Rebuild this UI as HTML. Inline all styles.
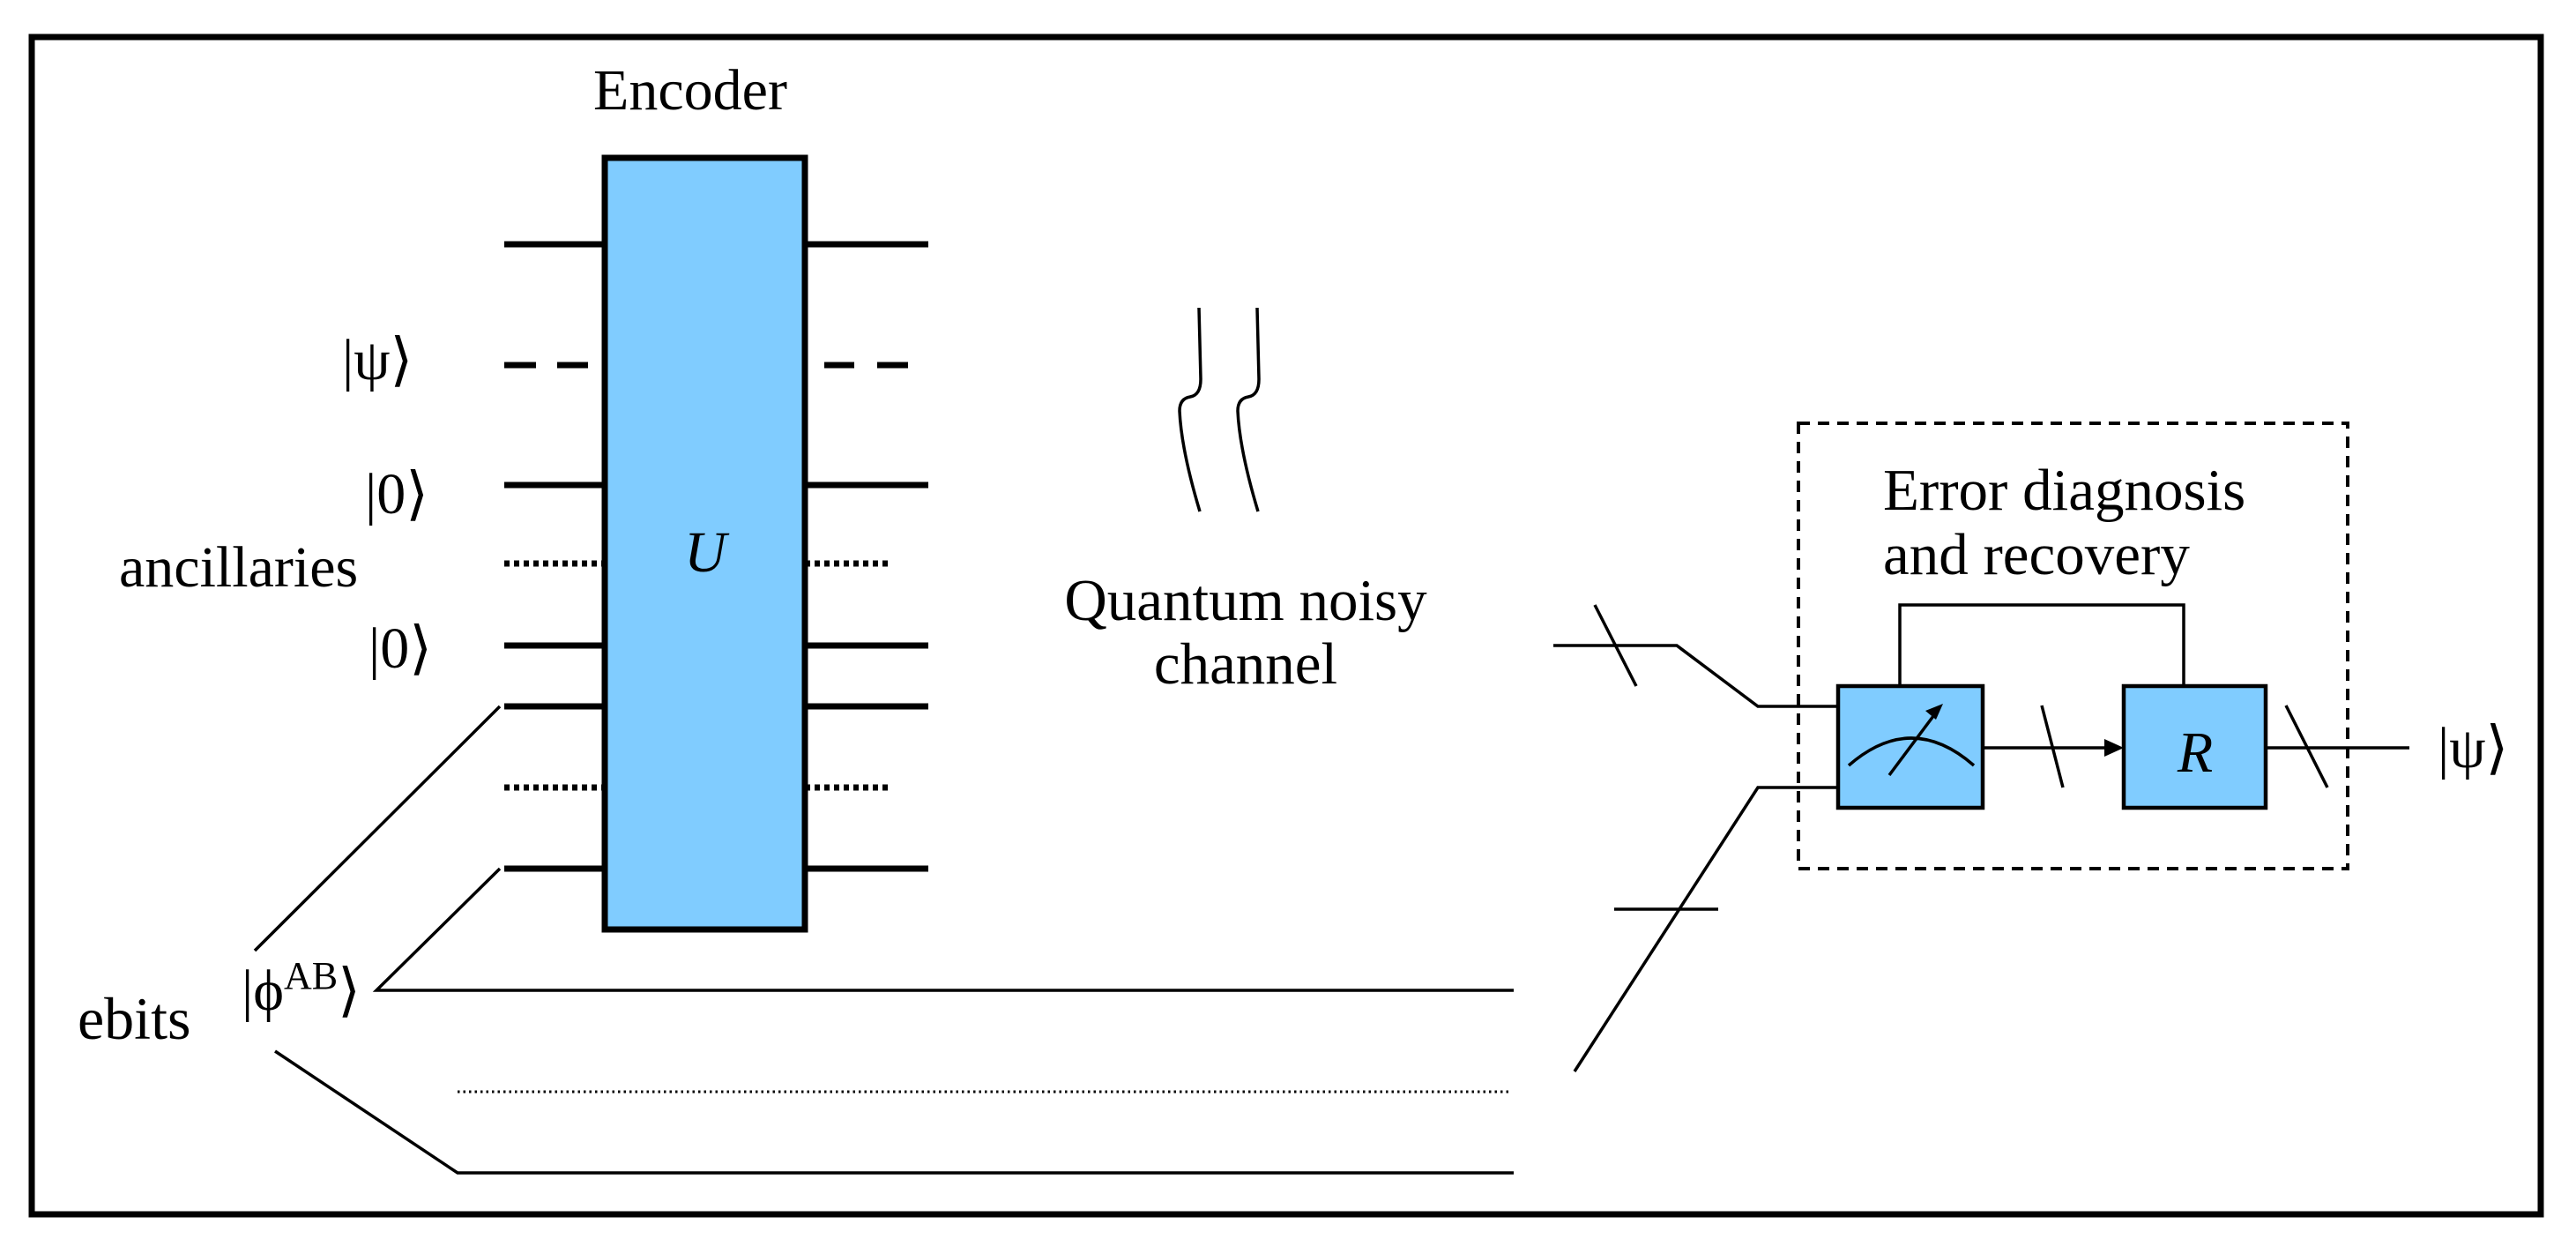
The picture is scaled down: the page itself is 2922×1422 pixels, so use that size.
<!DOCTYPE html>
<html><head><meta charset="utf-8"><style>
html,body{margin:0;padding:0;background:#fff;}
svg{display:block;}
text{font-family:"Liberation Serif","DejaVu Serif",serif;fill:#000;}
</style></head><body>
<svg width="2922" height="1422" viewBox="0 0 2922 1422" xmlns="http://www.w3.org/2000/svg">
<rect x="0" y="0" width="2922" height="1422" fill="#fff"/>
<rect x="36" y="42" width="2846" height="1335" fill="none" stroke="#000" stroke-width="7"/>

<!-- Encoder -->
<text x="783" y="124" font-size="66" text-anchor="middle">Encoder</text>
<g stroke="#000" stroke-width="7" fill="none">
<line x1="572" y1="277" x2="686" y2="277"/><line x1="913" y1="277" x2="1053" y2="277"/>
<line x1="572" y1="414" x2="608" y2="414"/><line x1="632" y1="414" x2="667" y2="414"/>
<line x1="935" y1="414" x2="969" y2="414"/><line x1="995" y1="414" x2="1030" y2="414"/>
<line x1="572" y1="550" x2="686" y2="550"/><line x1="913" y1="550" x2="1053" y2="550"/>
<line x1="572" y1="639" x2="686" y2="639" stroke-dasharray="6,5"/><line x1="913" y1="639" x2="1008" y2="639" stroke-dasharray="6,5"/>
<line x1="572" y1="732" x2="686" y2="732"/><line x1="913" y1="732" x2="1053" y2="732"/>
<line x1="572" y1="801" x2="686" y2="801"/><line x1="913" y1="801" x2="1053" y2="801"/>
<line x1="572" y1="893" x2="686" y2="893" stroke-dasharray="6,5"/><line x1="913" y1="893" x2="1008" y2="893" stroke-dasharray="6,5"/>
<line x1="572" y1="985" x2="686" y2="985"/><line x1="913" y1="985" x2="1053" y2="985"/>
</g>
<rect x="686" y="179" width="227" height="875" fill="#80CCFF" stroke="#000" stroke-width="7"/>
<text x="800" y="648" font-size="66" font-style="italic" text-anchor="middle">U</text>

<!-- left labels -->
<text x="388" y="430" font-size="66">|ψ⟩</text>
<text x="414" y="582" font-size="66">|0⟩</text>
<text x="135" y="665" font-size="66">ancillaries</text>
<text x="418" y="757" font-size="66">|0⟩</text>
<text x="88" y="1178" font-size="68">ebits</text>
<text x="274" y="1145" font-size="66">|ϕ<tspan font-size="44" dy="-24">AB</tspan><tspan dy="24">⟩</tspan></text>

<!-- ebit lines -->
<g stroke="#000" stroke-width="3.5" fill="none">
<line x1="289" y1="1078" x2="567" y2="801"/>
<polyline points="1717,1123 427,1123 567,985"/>
<polyline points="312,1192 519,1330 1717,1330"/>
<line x1="519" y1="1238" x2="1713" y2="1238" stroke-dasharray="2.5,4" stroke-width="3"/>
</g>

<!-- noise -->
<g stroke="#000" stroke-width="3.5" fill="none">
<path d="M1360,349 L1362,430 Q1362,448 1350,450 Q1338,452 1338,466 Q1340,510 1361,580"/>
<path d="M1426,349 L1428,430 Q1428,448 1416,450 Q1404,452 1404,466 Q1406,510 1427,580"/>
</g>
<text x="1413" y="703" font-size="67" text-anchor="middle">Quantum noisy</text>
<text x="1413" y="775" font-size="67" text-anchor="middle">channel</text>

<!-- recovery -->
<rect x="2040" y="480" width="623" height="505" fill="none" stroke="#000" stroke-width="4" stroke-dasharray="13,9"/>
<text x="2136" y="578" font-size="67">Error diagnosis</text>
<text x="2136" y="651" font-size="67">and recovery</text>
<g stroke="#000" stroke-width="3.5" fill="none">
<polyline points="1762,732 1902,732 1994,801 2085,801"/>
<line x1="1809" y1="686" x2="1856" y2="778"/>
<polyline points="1786,1215 1994,893 2085,893"/>
<line x1="1831" y1="1031" x2="1949" y2="1031"/>
<polyline points="2155,778 2155,686 2477,686 2477,778"/>
<line x1="2249" y1="848" x2="2392" y2="848"/>
<line x1="2316" y1="800" x2="2340" y2="893"/>
<line x1="2570" y1="848" x2="2733" y2="848"/>
<line x1="2593" y1="800" x2="2640" y2="893"/>
</g>
<path d="M2409,848 L2387,838 L2387,858 z" fill="#000"/>
<rect x="2085" y="778" width="164" height="138" fill="#80CCFF" stroke="#000" stroke-width="4.5"/>
<rect x="2409" y="778" width="161" height="138" fill="#80CCFF" stroke="#000" stroke-width="4.5"/>
<g stroke="#000" stroke-width="3.5" fill="none">
<path d="M2097,868 Q2168,806 2239,868"/>
<line x1="2143" y1="879" x2="2196" y2="808"/>
</g>
<path d="M2204,798 L2184,806 L2196,816 z" fill="#000"/>
<text x="2490" y="875" font-size="66" font-style="italic" text-anchor="middle">R</text>
<text x="2765" y="870" font-size="66">|ψ⟩</text>
</svg>
</body></html>
